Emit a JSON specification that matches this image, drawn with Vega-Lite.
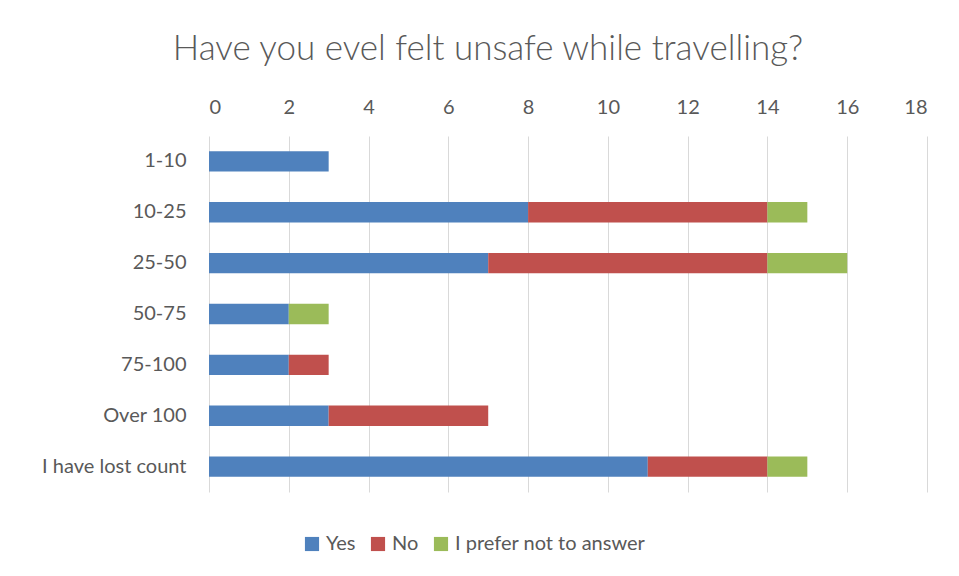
{
  "$schema": "https://vega.github.io/schema/vega-lite/v6.json",
  "autosize": {"type": "none"},
  "width": 718,
  "height": 356,
  "padding": {"left": 209, "top": 136, "right": 32, "bottom": 84},
  "background": "white",
  "title": {
    "text": "Have you evel felt unsafe while travelling?",
    "fontSize": 35,
    "font": "Lato",
    "fontWeight": 300,
    "color": "#595959",
    "anchor": "middle",
    "dx": -80,
    "offset": 30
  },
  "data": {
    "values": [
      {"range": "1-10", "answer": "Yes", "count": 3},
      {"range": "10-25", "answer": "Yes", "count": 8},
      {"range": "10-25", "answer": "No", "count": 6},
      {"range": "10-25", "answer": "I prefer not to answer", "count": 1},
      {"range": "25-50", "answer": "Yes", "count": 7},
      {"range": "25-50", "answer": "No", "count": 7},
      {"range": "25-50", "answer": "I prefer not to answer", "count": 2},
      {"range": "50-75", "answer": "Yes", "count": 2},
      {"range": "50-75", "answer": "I prefer not to answer", "count": 1},
      {"range": "75-100", "answer": "Yes", "count": 2},
      {"range": "75-100", "answer": "No", "count": 1},
      {"range": "Over 100", "answer": "Yes", "count": 3},
      {"range": "Over 100", "answer": "No", "count": 4},
      {"range": "I have lost count", "answer": "Yes", "count": 11},
      {"range": "I have lost count", "answer": "No", "count": 3},
      {"range": "I have lost count", "answer": "I prefer not to answer", "count": 1}
    ]
  },
  "mark": {"type": "bar"},
  "encoding": {
    "y": {
      "field": "range",
      "type": "nominal",
      "sort": null,
      "scale": {"paddingInner": 0.6, "paddingOuter": 0.3},
      "axis": {
        "title": null,
        "domain": false,
        "ticks": false,
        "labelPadding": 23,
        "labelFontSize": 20,
        "labelFont": "Lato",
        "labelColor": "#595959",
        "grid": false
      }
    },
    "x": {
      "field": "count",
      "type": "quantitative",
      "stack": "zero",
      "scale": {"domain": [0, 18]},
      "axis": {
        "orient": "top",
        "title": null,
        "values": [0, 2, 4, 6, 8, 10, 12, 14, 16, 18],
        "domain": false,
        "ticks": false,
        "labelPadding": 19,
        "labelFontSize": 20,
        "labelFont": "Lato",
        "labelColor": "#595959",
        "grid": true,
        "gridColor": "#D9D9D9",
        "gridWidth": 1
      }
    },
    "color": {
      "field": "answer",
      "type": "nominal",
      "sort": ["Yes", "No", "I prefer not to answer"],
      "scale": {
        "domain": ["Yes", "No", "I prefer not to answer"],
        "range": ["#4F81BD", "#C0504D", "#9BBB59"]
      },
      "legend": {
        "title": null,
        "orient": "none",
        "direction": "horizontal",
        "legendX": 93,
        "legendY": 398,
        "symbolType": "square",
        "symbolSize": 200,
        "symbolStrokeWidth": 0,
        "labelFontSize": 20,
        "labelFont": "Lato",
        "labelColor": "#595959",
        "labelLimit": 0,
        "columnPadding": 12,
        "labelOffset": 4
      }
    },
    "order": {"field": "answer", "sort": "descending"}
  },
  "config": {"view": {"stroke": null}}
}
